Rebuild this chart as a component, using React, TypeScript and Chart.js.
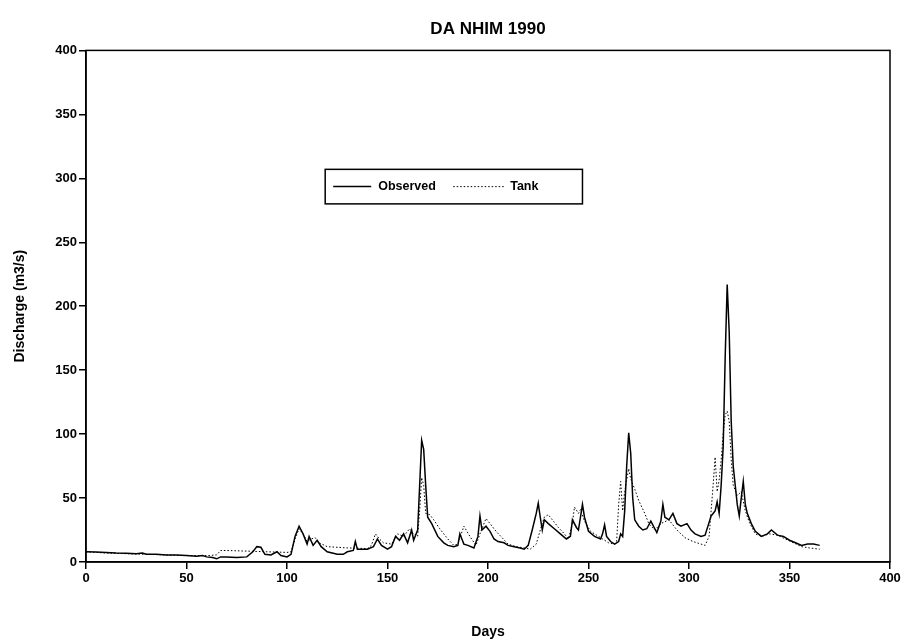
import React, { useEffect, useRef } from "react";
import { Chart, registerables } from "chart.js";

Chart.register(...registerables);

const TITLE = "DA NHIM 1990";
const X_TITLE = "Days";
const Y_TITLE = "Discharge (m3/s)";
const SERIES_NAMES = ["Observed", "Tank"];

const obsDays = [0,5,10,15,20,25,28,30,35,40,45,50,55,58,60,63,65,67,70,75,80,83,85,87,89,92,95,97,100,102,104,106,108,110,111,113,115,117,120,125,128,130,133,134,135,140,143,145,147,150,152,154,156,158,160,162,163,165,166,167,168,169,170,172,175,178,180,183,185,186,187,188,190,193,195,196,197,199,201,203,205,208,210,213,216,218,220,222,224,225,226,227,228,230,233,236,239,241,242,244,245,247,248,250,253,256,257,258,259,261,263,265,266,267,268,269,270,271,272,273,275,277,279,281,283,284,286,287,288,290,292,294,296,299,301,303,306,308,310,311,313,314,315,316,317,318,319,320,321,322,323,324,325,326,327,328,329,331,333,336,339,341,344,347,350,353,356,359,362,365];
const obsValues = [8,7.8,7.5,7,6.8,6.5,7,6,6,5.5,5.5,5,4.5,5,4,3.5,2.5,4,4,3.5,4,8,12,11.5,6,5.5,8,5,4,6,20,28,22,14,20,13,17,12,8,6,6,8,9,16,10,10,12,18,13,10,12,20,17,22,15,25,17,25,60,95,88,60,35,30,20,15,13,12,13,22,18,14,13,11,20,36,25,28,24,18,16,15,13,12,11,10,13,25,38,46,35,25,33,30,26,22,18,20,33,27,25,45,35,24,20,18,22,29,20,16,14,16,22,20,40,75,101,85,50,33,28,25,26,32,26,23,32,45,35,33,38,30,28,30,25,22,20,21,31,36,40,47,38,60,90,160,217,180,110,75,60,45,36,50,63,45,38,30,24,20,22,25,21,20,17,15,13,14,14,13];

const tankDays = [0,10,20,30,40,50,60,65,67,70,80,90,100,102,104,106,108,110,112,114,116,120,130,140,142,144,146,148,152,155,158,161,163,165,166,167,168,169,171,173,176,180,183,185,188,191,194,196,199,201,204,207,210,214,218,221,224,226,228,230,232,235,238,240,242,243,245,246,248,251,254,257,260,263,264,265,266,267,268,270,271,273,275,278,280,283,286,290,294,298,302,306,308,310,312,313,314,315,316,317,318,319,320,321,322,324,326,328,330,333,336,340,344,348,352,356,360,365];
const tankValues = [8,7,6.5,6,5.5,5,5,5.5,9,9,8.5,8,7.5,8,18,26,22,16,18,19,15,12,11,10.5,13,22,18,15,14,22,20,26,22,20,40,66,60,38,37,33,26,18,13,14,28,20,13,22,34,30,24,19,14,12,11,10,14,25,35,37,33,27,22,18,30,43,38,41,32,24,21,18,15,14,16,45,63,40,55,73,65,57,48,38,30,25,30,33,25,19,16,14,13,20,60,82,55,64,80,100,115,118,110,80,60,52,55,40,31,22,20,22,21,18,15,12,11,10];

const X_MIN = 0, X_MAX = 400, X_STEP = 50;
const Y_MIN = 0, Y_MAX = 400, Y_STEP = 50;

const FONT = "'Liberation Sans', Arial, Helvetica, sans-serif";

export default function App() {
  const ref = useRef<HTMLCanvasElement>(null);

  useEffect(() => {
    document.body.style.margin = "0";
    const canvas = ref.current;
    if (!canvas) return;

    const frame = {
      id: "frame",
      afterDatasetsDraw(chart: any) {
        const { ctx, chartArea: a } = chart;
        ctx.save();
        ctx.strokeStyle = "#000";
        ctx.lineWidth = 1.5;
        ctx.strokeRect(a.left, a.top, a.right - a.left, a.bottom - a.top);
        ctx.restore();
      },
    };

    const legendBox = {
      id: "legendBox",
      afterDraw(chart: any) {
        const { ctx } = chart;
        const xs = chart.scales.x;
        const ys = chart.scales.y;
        const l = xs.getPixelForValue(119);
        const r = xs.getPixelForValue(247);
        const t = ys.getPixelForValue(307);
        const b = ys.getPixelForValue(280);
        const cy = (t + b) / 2;
        ctx.save();
        ctx.fillStyle = "#fff";
        ctx.fillRect(l, t, r - l, b - t);
        ctx.strokeStyle = "#000";
        ctx.lineWidth = 1.5;
        ctx.strokeRect(l, t, r - l, b - t);
        ctx.font = "bold 12.5px " + FONT;
        ctx.fillStyle = "#000";
        ctx.textBaseline = "middle";
        ctx.textAlign = "left";
        ctx.lineWidth = 1.5;
        ctx.beginPath();
        ctx.moveTo(l + 8, cy);
        ctx.lineTo(l + 46, cy);
        ctx.stroke();
        ctx.fillText(SERIES_NAMES[0], l + 53, cy);
        ctx.lineWidth = 1;
        ctx.setLineDash([1.5, 2]);
        ctx.beginPath();
        ctx.moveTo(l + 128, cy);
        ctx.lineTo(l + 180, cy);
        ctx.stroke();
        ctx.setLineDash([]);
        ctx.fillText(SERIES_NAMES[1], l + 185, cy);
        ctx.restore();
      },
    };

    const chart = new Chart(canvas, {
      type: "line",
      data: {
        datasets: [
          {
            label: SERIES_NAMES[0],
            data: obsDays.map((d, i) => ({ x: d, y: obsValues[i] })),
            borderColor: "#000",
            borderWidth: 1.5,
            pointRadius: 0,
            tension: 0,
            fill: false,
          },
          {
            label: SERIES_NAMES[1],
            data: tankDays.map((d, i) => ({ x: d, y: tankValues[i] })),
            borderColor: "#000",
            borderWidth: 1,
            borderDash: [1.5, 2],
            pointRadius: 0,
            tension: 0,
            fill: false,
          },
        ],
      },
      options: {
        responsive: false,
        animation: false,
        layout: { padding: { left: 0, right: 24, top: 0, bottom: 0 } },
        plugins: {
          legend: { display: false },
          tooltip: { enabled: false },
          title: {
            display: true,
            text: TITLE,
            fullSize: false,
            color: "#000",
            font: { family: FONT, size: 17, weight: "bold" },
            padding: { top: 19, bottom: 11 },
          },
        },
        scales: {
          x: {
            type: "linear",
            min: X_MIN,
            max: X_MAX,
            ticks: {
              stepSize: X_STEP,
              color: "#000",
              font: { family: FONT, size: 13, weight: "bold" },
              padding: 2,
              maxRotation: 0,
            },
            grid: { drawOnChartArea: false, drawTicks: true, tickLength: 7, color: "#000", lineWidth: 1.5 },
            border: { display: true, color: "#000", width: 1.5 },
            title: {
              display: true,
              text: X_TITLE,
              color: "#000",
              font: { family: FONT, size: 14, weight: "bold" },
              padding: { top: 6, bottom: 0 },
            },
            afterFit: (s: any) => { s.height = 79; },
          },
          y: {
            type: "linear",
            min: Y_MIN,
            max: Y_MAX,
            ticks: {
              stepSize: Y_STEP,
              color: "#000",
              font: { family: FONT, size: 13, weight: "bold" },
              padding: 2,
            },
            grid: { drawOnChartArea: false, drawTicks: true, tickLength: 7, color: "#000", lineWidth: 1.5 },
            border: { display: true, color: "#000", width: 1.5 },
            title: {
              display: true,
              text: Y_TITLE,
              color: "#000",
              font: { family: FONT, size: 14, weight: "bold" },
              padding: { top: 12, bottom: 4 },
            },
            afterFit: (s: any) => { s.width = 86; },
          },
        },
      },
      plugins: [frame, legendBox],
    });

    return () => chart.destroy();
  }, []);

  return (
    <div style={{ width: 914, height: 641, background: "#fff" }}>
      <canvas ref={ref} width={914} height={641} />
    </div>
  );
}
